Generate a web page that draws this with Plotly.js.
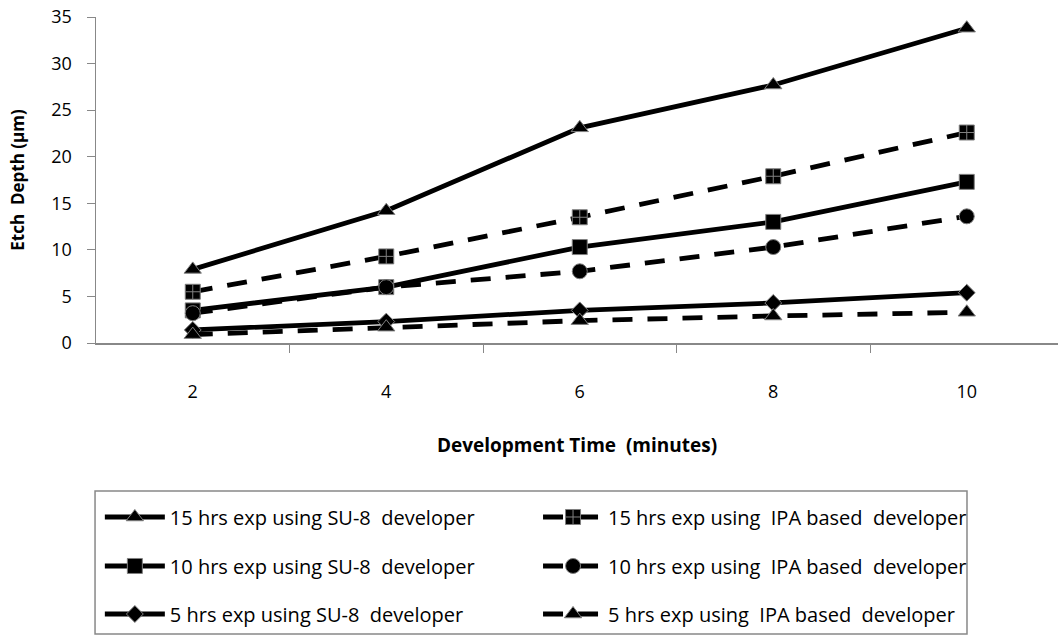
<!DOCTYPE html>
<html>
<head>
<meta charset="utf-8">
<script src="https://cdn.plot.ly/plotly-3.0.1.min.js"></script>
<style>html,body{margin:0;padding:0;background:#fff;}#chart{width:1058px;height:636px;}</style>
</head>
<body>
<div id="chart"></div>
<script>
const minutes = [2, 4, 6, 8, 10];
const su8_15 = [7.9, 14.2, 23.1, 27.7, 33.8];
const ipa_15 = [5.5, 9.3, 13.5, 17.9, 22.6];
const su8_10 = [3.5, 6.0, 10.3, 13.0, 17.3];
const ipa_10 = [3.2, 6.0, 7.7, 10.3, 13.6];
const su8_5 = [1.4, 2.3, 3.5, 4.3, 5.4];
const ipa_5 = [0.9, 1.7, 2.4, 2.9, 3.3];
const seriesNames = [
  "15 hrs exp using SU-8\u00a0 developer",
  "15 hrs exp using\u00a0 IPA based\u00a0 developer",
  "10 hrs exp using SU-8\u00a0 developer",
  "10 hrs exp using\u00a0 IPA based\u00a0 developer",
  "5 hrs exp using SU-8\u00a0 developer",
  "5 hrs exp using\u00a0 IPA based\u00a0 developer"
];
const xTicks = [2, 4, 6, 8, 10];
const yTicks = [0, 5, 10, 15, 20, 25, 30, 35];

const FONT = "'Open Sans', 'Noto Sans', sans-serif";
const DASH = "20px,15px";
function tr(y, name, sym, dashed, size, legend) {
  return {
    x: minutes, y: y, name: name, type: 'scatter', mode: 'lines+markers',
    line: {color: '#000', width: 4.8, dash: dashed ? DASH : 'solid'},
    marker: {symbol: sym, size: size, color: '#000', line: {color: '#808080', width: 1}},
    legend: legend
  };
}
const data = [
  tr(su8_15, seriesNames[0], 'triangle-up', false, 15, 'legend'),
  tr(ipa_15, seriesNames[1], 'square-cross', true, 15, 'legend2'),
  tr(su8_10, seriesNames[2], 'square', false, 15, 'legend3'),
  tr(ipa_10, seriesNames[3], 'circle', true, 15, 'legend4'),
  tr(su8_5, seriesNames[4], 'diamond', false, 13, 'legend5'),
  tr(ipa_5, seriesNames[5], 'triangle-up', true, 15, 'legend6')
];
const colX = [0.004, 0.4595];
const rowY = [-0.5337, -0.684, -0.8313];
function lg(c, r) {
  return {orientation: 'v', x: colX[c], xanchor: 'left', y: rowY[r], yanchor: 'middle',
    itemwidth: 60, bgcolor: 'rgba(0,0,0,0)', borderwidth: 0,
    font: {family: FONT, size: 20, color: '#000'}};
}
const layout = {
  width: 1058, height: 636,
  margin: {l: 96, r: 0, t: 17, b: 293},
  paper_bgcolor: '#fff', plot_bgcolor: '#fff',
  font: {family: FONT, size: 17, color: '#000'},
  xaxis: {
    range: [1, 10.943], tickvals: xTicks, ticktext: xTicks.map(String),
    ticks: '', showgrid: false, zeroline: false,
    showline: true, linecolor: '#888', linewidth: 1.5,
    ticklabelstandoff: 32,
    minor: {tickvals: [3, 5, 7, 9], ticks: 'outside', ticklen: 8, tickcolor: '#888', tickwidth: 1, showgrid: false},
    tickfont: {family: FONT, size: 18, color: '#000'},
    title: {text: '<b>Development Time\u00a0 (minutes)</b>', font: {family: FONT, size: 19, color: '#000'}, standoff: 36}
  },
  yaxis: {
    range: [0, 35], tickvals: yTicks, ticks: 'outside', ticklen: 8, tickcolor: '#888',
    ticklabelstandoff: 11,
    showgrid: false, zeroline: false, showline: true, linecolor: '#888', linewidth: 1.5,
    tickfont: {family: FONT, size: 18, color: '#000'},
    title: {text: '<b>Etch\u00a0 Depth (\u00b5m)</b>', font: {family: FONT, size: 17, color: '#000'}, standoff: 22}
  },
  showlegend: true,
  legend: lg(0, 0), legend2: lg(1, 0),
  legend3: lg(0, 1), legend4: lg(1, 1),
  legend5: lg(0, 2), legend6: lg(1, 2),
  shapes: [{type: 'rect', xref: 'paper', yref: 'paper', x0: -0.001, x1: 0.9054, y0: -0.8926, y1: -0.454,
    line: {color: '#888', width: 1.5}, fillcolor: 'rgba(0,0,0,0)'}]
};
Plotly.newPlot('chart', data, layout, {displayModeBar: false, staticPlot: true});
</script>
</body>
</html>
